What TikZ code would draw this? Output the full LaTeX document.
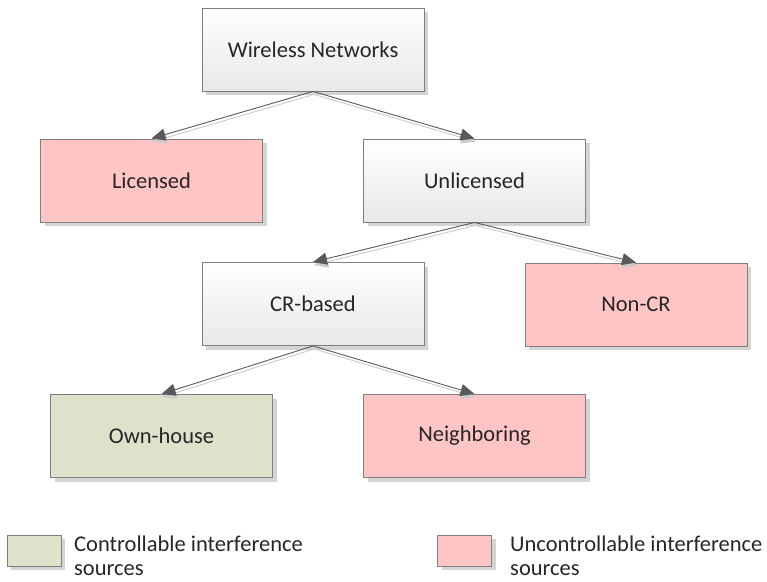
\documentclass[tikz,border=0pt]{standalone}
\usepackage{fontspec}
\setmainfont{Carlito}
\usetikzlibrary{arrows.meta,shadows,positioning}

\definecolor{boxline}{HTML}{7F7F7F}
\definecolor{uncfill}{HTML}{FFC5C5}
\definecolor{ctrlfill}{HTML}{DDE2CA}
\definecolor{linkdark}{HTML}{595959}
\definecolor{linklight}{HTML}{CACACA}
\definecolor{txt}{HTML}{262626}

\tikzset{
  box/.style={draw=boxline, line width=0.9pt, minimum width=222pt, minimum height=83pt,
    inner sep=0pt, text=txt, font=\fontsize{22.5}{25}\selectfont,
    drop shadow={shadow xshift=4pt, shadow yshift=-4pt, fill=black!17, opacity=1}},
  plainbox/.style={box, top color=white, bottom color=black!9},
  uncbox/.style={box, fill=uncfill},
  ctrlbox/.style={box, fill=ctrlfill},
  keybox/.style={draw=boxline, line width=0.9pt, minimum width=54pt, minimum height=31pt,
    inner sep=0pt, drop shadow={shadow xshift=4pt, shadow yshift=-4pt, fill=black!17, opacity=1}},
  keytext/.style={anchor=base west, align=left, inner sep=0pt, text=txt,
    font=\fontsize{22.5}{24}\selectfont},
  link/.style={draw=linkdark, line width=0.9pt,
    -{Triangle[length=14pt,width=12pt,fill=linkdark]}},
  linkshade/.style={draw=linklight, line width=0.9pt,
    -{Triangle[length=14pt,width=12pt,fill=linklight]}}
}

\begin{document}
\begin{tikzpicture}[x=1pt, y=-1pt]
\useasboundingbox (0,0) rectangle (767,581);

% tree
\node[plainbox] (wn)  at (313,49.5)   {Wireless Networks};
\node[uncbox]   (lic) at (151.5,180.5) {Licensed};
\node[plainbox] (unl) at (474.5,180.5) {Unlicensed};
\node[plainbox] (crb) at (313,304)    {CR-based};
\node[uncbox]   (ncr) at (636,304.5)  {Non-CR};
\node[ctrlbox]  (own) at (161.5,436)  {Own-house};
\node[uncbox]   (nbr) at (474.5,436)  {Neighboring};

\foreach \from/\to in {wn/lic, wn/unl, unl/crb, unl/ncr, crb/own, crb/nbr}{
  \draw[linkshade] ([shift={(1,3)}]\from.south) -- ([shift={(1,3)}]\to.north);
  \draw[link] (\from.south) -- (\to.north);
}

% legend
\node[keybox, fill=ctrlfill] (keyc) at (34,550.5) {};
\node[keytext] (keyctxt) at (74,575) {Controllable interference\\sources};
\node[keybox, fill=uncfill] (keyu) at (464.5,550.5) {};
\node[keytext] (keyutxt) at (510,575) {Uncontrollable interference\\sources};
\end{tikzpicture}
\end{document}
